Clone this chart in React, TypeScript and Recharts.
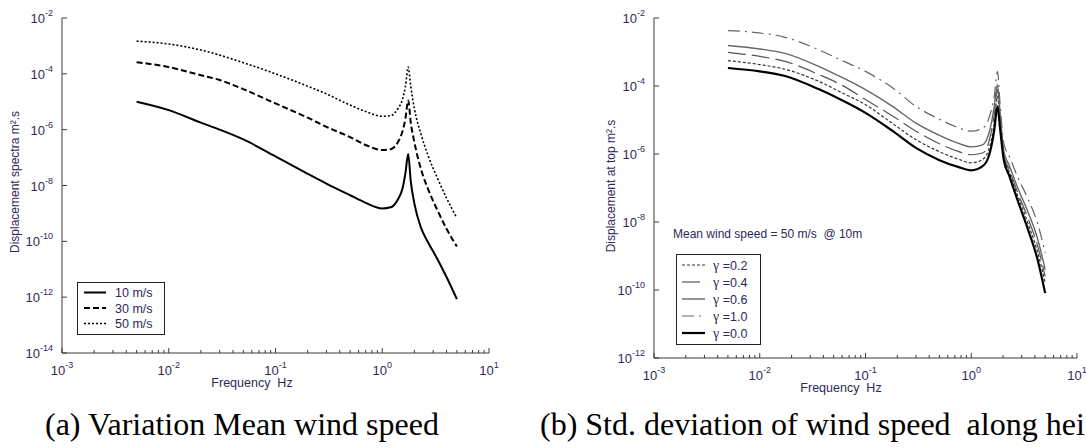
import React from "react";
import { LineChart, Line, XAxis, YAxis, Legend } from "recharts";

// (a) displacement spectra for three mean wind speeds
const freqA = [0.005, 0.01, 0.02, 0.03, 0.05, 0.1, 0.2, 0.3, 0.5, 0.7, 1.0, 1.2, 1.4, 1.55, 1.65, 1.75, 1.85, 2.0, 2.3, 2.7, 3.3, 4.0, 5.0];
const wind10 = [1.0e-5, 5.0e-6, 1.78e-6, 1.0e-6, 4.47e-7, 1.1e-7, 2.63e-8, 1.17e-8, 4.47e-9, 2.4e-9, 1.51e-9, 1.66e-9, 3.16e-9, 7.94e-9, 2.82e-8, 1.35e-7, 1.41e-8, 2.24e-9, 3.16e-10, 8.9e-11, 2.24e-11, 5.25e-12, 8.5e-13];
const wind30 = [2.63e-4, 1.74e-4, 8.9e-5, 6.0e-5, 2.82e-5, 8.7e-6, 2.69e-6, 1.26e-6, 5.4e-7, 2.82e-7, 1.86e-7, 2.0e-7, 3.55e-7, 8.9e-7, 2.51e-6, 1.12e-5, 1.78e-6, 3.55e-7, 3.98e-8, 7.1e-9, 1.26e-9, 2.82e-10, 6.5e-11];
const wind50 = [1.48e-3, 1.17e-3, 7.1e-4, 4.68e-4, 2.51e-4, 1.0e-4, 3.63e-5, 1.91e-5, 7.6e-6, 4.47e-6, 3.02e-6, 3.16e-6, 5.6e-6, 1.26e-5, 3.55e-5, 1.74e-4, 3.55e-5, 5.6e-6, 7.1e-7, 1.12e-7, 1.78e-8, 3.55e-9, 6.9e-10];
const windLabels = ["10 m/s", "30 m/s", "50 m/s"];

// (b) displacement at top for several gamma values
const freqB = [0.005, 0.01, 0.017, 0.036, 0.06, 0.1, 0.18, 0.3, 0.5, 0.75, 1.0, 1.28, 1.45, 1.55, 1.65, 1.77, 1.88, 2.03, 2.3, 2.7, 3.45, 4.2, 5.0];
const gamma10 = [4.27e-3, 3.63e-3, 2.75e-3, 1.17e-3, 5.6e-4, 2.69e-4, 8.9e-5, 2.51e-5, 1.05e-5, 6.0e-6, 4.68e-6, 5.75e-6, 1.0e-5, 2.0e-5, 5.0e-5, 2.69e-4, 2.51e-5, 2.09e-6, 8.3e-7, 2.4e-7, 4.68e-8, 1.0e-8, 1.23e-9];
const gamma06 = [1.55e-3, 1.23e-3, 9.3e-4, 3.8e-4, 1.78e-4, 7.8e-5, 2.51e-5, 8.1e-6, 3.55e-6, 2.09e-6, 1.62e-6, 1.86e-6, 3.55e-6, 8.1e-6, 2.51e-5, 1.1e-4, 1.41e-5, 1.2e-6, 4.47e-7, 1.17e-7, 1.91e-8, 3.55e-9, 3.98e-10];
const gamma04 = [9.8e-4, 7.4e-4, 5.4e-4, 2.19e-4, 1.05e-4, 3.98e-5, 1.32e-5, 4.68e-6, 2.0e-6, 1.2e-6, 9.5e-7, 1.07e-6, 2.0e-6, 4.68e-6, 1.41e-5, 7.8e-5, 1.0e-5, 9.5e-7, 3.39e-7, 8.5e-8, 1.26e-8, 2.19e-9, 2.51e-10];
const gamma02 = [5.6e-4, 4.27e-4, 3.16e-4, 1.38e-4, 6.3e-5, 2.82e-5, 7.9e-6, 2.63e-6, 1.17e-6, 7.1e-7, 5.5e-7, 6.9e-7, 1.26e-6, 2.63e-6, 7.9e-6, 5.0e-5, 7.9e-6, 8.5e-7, 2.88e-7, 6.9e-8, 8.9e-9, 1.45e-9, 1.62e-10];
const gamma00 = [3.39e-4, 2.69e-4, 2.0e-4, 8.1e-5, 3.8e-5, 1.62e-5, 4.79e-6, 1.51e-6, 6.6e-7, 4.17e-7, 3.31e-7, 4.37e-7, 7.9e-7, 1.7e-6, 5.0e-6, 2.51e-5, 5.0e-6, 6.8e-7, 2.19e-7, 5.0e-8, 5.9e-9, 8.7e-10, 8.1e-11];
const gammaLabels = ["=0.2", "=0.4", "=0.6", "=1.0", "=0.0"];

const xDecades = [1e-3, 1e-2, 1e-1, 1, 10];
const yTicksA = [1e-14, 1e-12, 1e-10, 1e-8, 1e-6, 1e-4, 1e-2];
const yTicksB = [1e-12, 1e-10, 1e-8, 1e-6, 1e-4, 1e-2];

const xTicks = xDecades.flatMap((d, i) =>
  i === xDecades.length - 1 ? [d] : [1, 2, 3, 4, 5, 6, 7, 8, 9].map((m) => d * m)
);

const dataA = freqA.map((f, i) => ({ f, w10: wind10[i], w30: wind30[i], w50: wind50[i] }));
const dataB = freqB.map((f, i) => ({
  f, g10: gamma10[i], g06: gamma06[i], g04: gamma04[i], g02: gamma02[i], g00: gamma00[i],
}));

const INK = "#2e2958";
const FRAME = "#3a3a3a";
const SANS = "'Liberation Sans', Arial, sans-serif";

function Pow({ x, y, exp, anchor }: { x: number; y: number; exp: number; anchor: string }) {
  return (
    <text x={x} y={y} textAnchor={anchor} fill={INK} fontFamily={SANS} fontSize={13}>
      10<tspan dy={-7} fontSize={9}>{exp}</tspan>
    </text>
  );
}

const xTick = (side: "bottom" | "top") => (props: any) => {
  const { x, y, payload } = props;
  const lg = Math.log10(payload.value);
  const e = Math.round(lg);
  const major = Math.abs(lg - e) < 1e-6;
  const dir = side === "bottom" ? -1 : 1;
  return (
    <g>
      <line x1={x} x2={x} y1={y} y2={y + dir * (major ? 5 : 3)} stroke={FRAME} />
      {side === "bottom" && major ? <Pow x={x} y={y + 22} exp={e} anchor="middle" /> : null}
    </g>
  );
};

const yTick = (side: "left" | "right") => (props: any) => {
  const { x, y, payload } = props;
  const e = Math.round(Math.log10(payload.value));
  const dir = side === "left" ? 1 : -1;
  return (
    <g>
      <line x1={x} x2={x + dir * 5} y1={y} y2={y} stroke={FRAME} />
      {side === "left" ? <Pow x={x - 9} y={y + 5} exp={e} anchor="end" /> : null}
    </g>
  );
};

const vTitle = (text: string, cx: number, cy: number) => () => (
  <text
    x={cx}
    y={cy}
    transform={`rotate(-90, ${cx}, ${cy})`}
    textAnchor="middle"
    dominantBaseline="central"
    fill={INK}
    fontFamily={SANS}
    fontSize={12}
  >
    {text}
  </text>
);

const hTitle = (text: string, cx: number, y: number) => () => (
  <text x={cx} y={y} textAnchor="middle" fill={INK} fontFamily={SANS} fontSize={12.5} style={{ whiteSpace: "pre" }}>
    {text}
  </text>
);

function LegendA() {
  const styles = [
    { w: 2, dash: undefined },
    { w: 2, dash: "6 3" },
    { w: 1.6, dash: "2 2" },
  ];
  return (
    <svg width={88} height={53}>
      <rect x={0.5} y={0.5} width={87} height={52} fill="#fff" stroke="#222" />
      {windLabels.map((t, i) => (
        <g key={t}>
          <line x1={7} x2={29} y1={10.5 + i * 15.5} y2={10.5 + i * 15.5} stroke="#000" strokeWidth={styles[i].w} strokeDasharray={styles[i].dash} />
          <text x={38} y={15 + i * 15.5} fill={INK} fontFamily={SANS} fontSize={12.5}>{t}</text>
        </g>
      ))}
    </svg>
  );
}

const gammaStyles = [
  { c: "#333", w: 1.2, dash: "3 2" },
  { c: "#555", w: 1.2, dash: "18 6" },
  { c: "#666", w: 1.4, dash: undefined },
  { c: "#666", w: 1.2, dash: "12 5 2 5" },
  { c: "#000", w: 2.2, dash: undefined },
];

function LegendB() {
  return (
    <svg width={220} height={122}>
      <text x={0} y={14} fill={INK} fontFamily={SANS} fontSize={12} style={{ whiteSpace: "pre" }}>
        {"Mean wind speed = 50 m/s  @ 10m"}
      </text>
      <rect x={3.5} y={30.5} width={84} height={90} fill="#fff" stroke="#222" />
      {gammaLabels.map((t, i) => (
        <g key={t}>
          <line x1={9} x2={32} y1={41 + i * 17} y2={41 + i * 17} stroke={gammaStyles[i].c} strokeWidth={gammaStyles[i].w} strokeDasharray={gammaStyles[i].dash} />
          <text x={40} y={46 + i * 17} fill={INK} fontFamily={SANS} fontSize={12.5}>
            <tspan fontFamily="'Liberation Serif', serif" fontSize={14}>γ</tspan>
            <tspan>{" " + t}</tspan>
          </text>
        </g>
      ))}
    </svg>
  );
}

function ChartA() {
  return (
    <LineChart width={540} height={400} data={dataA} margin={{ top: 18, right: 51, bottom: 0, left: 0 }}>
      <XAxis xAxisId="b" dataKey="f" type="number" scale="log" domain={[1e-3, 10]} allowDataOverflow ticks={xTicks} interval={0}
        height={47} tickSize={0} tickMargin={0} tick={xTick("bottom")} axisLine={{ stroke: FRAME }}
        label={hTitle("Frequency  Hz", 252, 387)} />
      <XAxis xAxisId="t" orientation="top" dataKey="f" type="number" scale="log" domain={[1e-3, 10]} allowDataOverflow ticks={xTicks} interval={0}
        height={0} tickSize={0} tickMargin={0} tick={xTick("top")} axisLine={{ stroke: FRAME }} />
      <YAxis yAxisId="l" type="number" scale="log" domain={[1e-14, 1e-2]} allowDataOverflow ticks={yTicksA} interval={0}
        width={62} tickSize={0} tickMargin={0} tick={yTick("left")} axisLine={{ stroke: FRAME }}
        label={vTitle("Displacement spectra m².s", 15, 182)} />
      <YAxis yAxisId="r" orientation="right" type="number" scale="log" domain={[1e-14, 1e-2]} allowDataOverflow ticks={yTicksA} interval={0}
        width={0} tickSize={0} tickMargin={0} tick={yTick("right")} axisLine={{ stroke: FRAME }} />
      <Line xAxisId="b" yAxisId="l" dataKey="w50" type="monotone" stroke="#000" strokeWidth={1.6} strokeDasharray="2 2" dot={false} isAnimationActive={false} />
      <Line xAxisId="b" yAxisId="l" dataKey="w30" type="monotone" stroke="#000" strokeWidth={2} strokeDasharray="6 3" dot={false} isAnimationActive={false} />
      <Line xAxisId="b" yAxisId="l" dataKey="w10" type="monotone" stroke="#000" strokeWidth={2} dot={false} isAnimationActive={false} />
      <Legend layout="horizontal" verticalAlign="middle" align="center" content={() => <LegendA />}
        wrapperStyle={{ left: 77, top: 282, width: 88, height: 53 }} />
    </LineChart>
  );
}

function ChartB() {
  const keys = ["g02", "g04", "g06", "g10", "g00"];
  return (
    <LineChart width={546} height={400} data={dataB} margin={{ top: 18, right: 9, bottom: 0, left: 0 }}>
      <XAxis xAxisId="b" dataKey="f" type="number" scale="log" domain={[1e-3, 10]} allowDataOverflow ticks={xTicks} interval={0}
        height={42} tickSize={0} tickMargin={0} tick={xTick("bottom")} axisLine={{ stroke: FRAME }}
        label={hTitle("Frequency  Hz", 301, 392)} />
      <XAxis xAxisId="t" orientation="top" dataKey="f" type="number" scale="log" domain={[1e-3, 10]} allowDataOverflow ticks={xTicks} interval={0}
        height={0} tickSize={0} tickMargin={0} tick={xTick("top")} axisLine={{ stroke: FRAME }} />
      <YAxis yAxisId="l" type="number" scale="log" domain={[1e-12, 1e-2]} allowDataOverflow ticks={yTicksB} interval={0}
        width={114} tickSize={0} tickMargin={0} tick={yTick("left")} axisLine={{ stroke: FRAME }}
        label={vTitle("Displacement  at top m².s", 71, 186)} />
      <YAxis yAxisId="r" orientation="right" type="number" scale="log" domain={[1e-12, 1e-2]} allowDataOverflow ticks={yTicksB} interval={0}
        width={0} tickSize={0} tickMargin={0} tick={yTick("right")} axisLine={{ stroke: FRAME }} />
      {keys.map((k, i) => (
        <Line key={k} xAxisId="b" yAxisId="l" dataKey={k} type="monotone" stroke={gammaStyles[i].c}
          strokeWidth={gammaStyles[i].w} strokeDasharray={gammaStyles[i].dash} dot={false} isAnimationActive={false} />
      ))}
      <Legend layout="horizontal" verticalAlign="middle" align="center" content={() => <LegendB />}
        wrapperStyle={{ left: 133, top: 224, width: 220, height: 122 }} />
    </LineChart>
  );
}

const caption: React.CSSProperties = {
  position: "absolute",
  top: 408,
  fontFamily: "'Liberation Serif', 'Times New Roman', serif",
  fontSize: 32,
  lineHeight: 1,
  whiteSpace: "pre",
  color: "#000",
};

export default function App() {
  return (
    <div style={{ position: "absolute", left: 0, top: 0, width: 1086, height: 448, overflow: "hidden", background: "#fff" }}>
      <div style={{ position: "absolute", left: 0, top: 0 }}>
        <ChartA />
      </div>
      <div style={{ position: "absolute", left: 540, top: 0 }}>
        <ChartB />
      </div>
      <div style={{ ...caption, left: 45 }}>(a) Variation Mean wind speed</div>
      <div style={{ ...caption, left: 540 }}>(b) Std. deviation of wind speed  along hei</div>
    </div>
  );
}
